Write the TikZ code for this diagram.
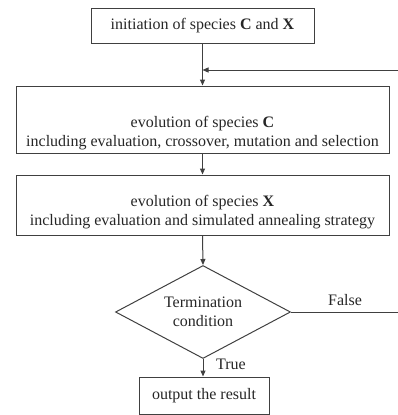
\documentclass[tikz,border=0pt]{standalone}
\usepackage{fontspec}
\setmainfont{Liberation Serif}
\usetikzlibrary{arrows.meta,shapes.geometric}
\begin{document}
\begin{tikzpicture}[x=1pt,y=1pt,
  every node/.style={font=\fontsize{16}{19}\selectfont, text=black!85},
  box/.style={draw=black!75, line width=1pt, inner sep=0pt},
  dec/.style={draw=black!75, line width=1pt, diamond, inner sep=0pt, align=center, shape aspect=1.88},
  conn/.style={draw=black!75, line width=1pt},
  arr/.style={conn, -{Triangle[length=6pt,width=5pt]}},
  lbl/.style={align=center, inner sep=0pt}]
\useasboundingbox (0,0) rectangle (398,-415);
\node[box, minimum width=223, minimum height=35] (init) at (202.5,-26) {initiation of species \textbf{C} and \textbf{X}};
\node[box, minimum width=373, minimum height=67] (evc) at (202.5,-119.5) {};
\node[lbl] (evct) at (202.5,-133) {evolution of species \textbf{C}\\including evaluation, crossover, mutation and selection};
\node[box, minimum width=373, minimum height=60] (evx) at (202.5,-205) {};
\node[lbl] (evxt) at (202.5,-212) {evolution of species \textbf{X}\\including evaluation and simulated annealing strategy};
\node[dec, minimum width=175, minimum height=93] (term) at (203,-312) {Termination\\condition};
\node[box, minimum width=130, minimum height=37] (out) at (204,-395.5) {output the result};
\coordinate (fbR) at (398,-70);
\coordinate (fbL) at (202.5,-70);
\coordinate (falseR) at (398,-312);
\draw[arr] (init.south) -- (evc.north);
\draw[arr] (fbR) -- (fbL);
\draw[arr] (evc.south) -- (evx.north);
\draw[arr] (evx.south) -- (term.north);
\draw[arr] (term.south) -- (out.north -| term.south);
\draw[conn] (term.east) -- (falseR);
\node[anchor=west, inner sep=0pt] (tlab) at (216,-364) {True};
\node[inner sep=0pt] (flab) at (345,-300) {False};
\end{tikzpicture}
\end{document}
